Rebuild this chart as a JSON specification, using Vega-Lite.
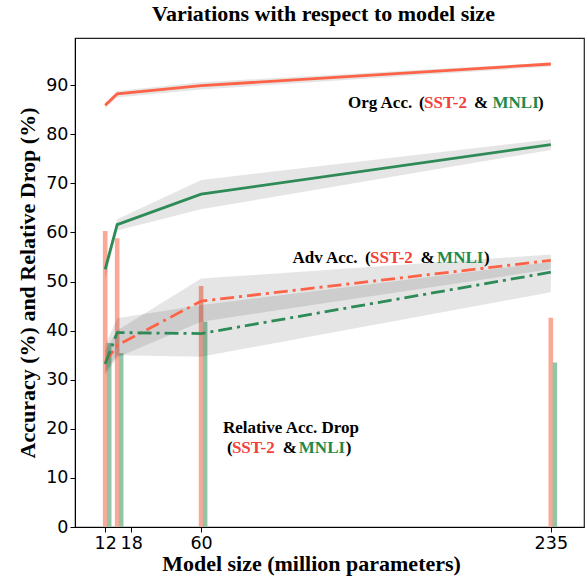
{
  "$schema": "https://vega.github.io/schema/vega-lite/v6.json",
  "width": 509,
  "height": 489,
  "autosize": {"type": "none"},
  "padding": {"left": 75, "top": 38, "right": 3, "bottom": 49},
  "background": "white",
  "config": {
    "view": {"stroke": "#222222", "strokeWidth": 1.2},
    "axis": {"grid": false}
  },
  "title": {
    "text": "Variations with respect to model size",
    "font": "Liberation Serif",
    "fontSize": 22,
    "fontWeight": "bold",
    "color": "black",
    "offset": 12,
    "dx": -6
  },
  "datasets": {
    "drops": [
      {"size": 12, "task": "SST-2", "drop": 60.3},
      {"size": 18, "task": "SST-2", "drop": 58.8},
      {"size": 60, "task": "SST-2", "drop": 49.1},
      {"size": 235, "task": "SST-2", "drop": 42.6},
      {"size": 12, "task": "MNLI", "drop": 37.5},
      {"size": 18, "task": "MNLI", "drop": 35.4},
      {"size": 60, "task": "MNLI", "drop": 41.8},
      {"size": 235, "task": "MNLI", "drop": 33.5}
    ],
    "acc": [
      {"size": 12, "task": "SST-2", "metric": "Org", "key": "Org SST-2", "value": 85.9, "lo": 85.3, "hi": 86.4},
      {"size": 18, "task": "SST-2", "metric": "Org", "key": "Org SST-2", "value": 88.2, "lo": 87.5, "hi": 88.8},
      {"size": 60, "task": "SST-2", "metric": "Org", "key": "Org SST-2", "value": 89.9, "lo": 89.1, "hi": 90.6},
      {"size": 235, "task": "SST-2", "metric": "Org", "key": "Org SST-2", "value": 94.3, "lo": 93.8, "hi": 94.6},
      {"size": 12, "task": "MNLI", "metric": "Org", "key": "Org MNLI", "value": 52.5, "lo": 50.4, "hi": 53.3},
      {"size": 18, "task": "MNLI", "metric": "Org", "key": "Org MNLI", "value": 61.6, "lo": 60.4, "hi": 62.7},
      {"size": 60, "task": "MNLI", "metric": "Org", "key": "Org MNLI", "value": 67.8, "lo": 64.7, "hi": 70.7},
      {"size": 235, "task": "MNLI", "metric": "Org", "key": "Org MNLI", "value": 77.9, "lo": 76.8, "hi": 79.0},
      {"size": 12, "task": "SST-2", "metric": "Adv", "key": "Adv SST-2", "value": 33.5, "lo": 31.0, "hi": 36.0},
      {"size": 18, "task": "SST-2", "metric": "Adv", "key": "Adv SST-2", "value": 37.0, "lo": 34.5, "hi": 40.0},
      {"size": 60, "task": "SST-2", "metric": "Adv", "key": "Adv SST-2", "value": 46.0, "lo": 41.8, "hi": 50.6},
      {"size": 235, "task": "SST-2", "metric": "Adv", "key": "Adv SST-2", "value": 54.3, "lo": 52.5, "hi": 55.5},
      {"size": 12, "task": "MNLI", "metric": "Adv", "key": "Adv MNLI", "value": 33.2, "lo": 31.5, "hi": 37.0},
      {"size": 18, "task": "MNLI", "metric": "Adv", "key": "Adv MNLI", "value": 39.6, "lo": 35.0, "hi": 42.5},
      {"size": 60, "task": "MNLI", "metric": "Adv", "key": "Adv MNLI", "value": 39.4, "lo": 34.7, "hi": 45.2},
      {"size": 235, "task": "MNLI", "metric": "Adv", "key": "Adv MNLI", "value": 51.9, "lo": 47.8, "hi": 54.0}
    ],
    "notes": [
      {"x": 133.5, "y": 85.3, "text": "Org Acc.", "part": "plain"},
      {"x": 169.0, "y": 85.3, "text": "(", "part": "plain"},
      {"x": 171.6, "y": 85.3, "text": "SST-2", "part": "SST-2"},
      {"x": 196.6, "y": 85.3, "text": "&", "part": "plain"},
      {"x": 205.8, "y": 85.3, "text": "MNLI", "part": "MNLI"},
      {"x": 228.6, "y": 85.3, "text": ")", "part": "plain"},
      {"x": 105.7, "y": 53.8, "text": "Adv Acc.", "part": "plain"},
      {"x": 142.0, "y": 53.8, "text": "(", "part": "plain"},
      {"x": 144.5, "y": 53.8, "text": "SST-2", "part": "SST-2"},
      {"x": 169.8, "y": 53.8, "text": "&", "part": "plain"},
      {"x": 178.1, "y": 53.8, "text": "MNLI", "part": "MNLI"},
      {"x": 201.6, "y": 53.8, "text": ")", "part": "plain"},
      {"x": 70.9, "y": 19.1, "text": "Relative Acc. Drop", "part": "plain"},
      {"x": 73.0, "y": 15.0, "text": "(", "part": "plain"},
      {"x": 75.4, "y": 15.0, "text": "SST-2", "part": "SST-2"},
      {"x": 100.8, "y": 15.0, "text": "&", "part": "plain"},
      {"x": 108.9, "y": 15.0, "text": "MNLI", "part": "MNLI"},
      {"x": 132.4, "y": 15.0, "text": ")", "part": "plain"}
    ]
  },
  "layer": [
    {
      "data": {"name": "drops"},
      "transform": [{"filter": "datum.task == 'SST-2'"}],
      "mark": {"type": "bar", "orient": "vertical", "width": 4.6, "color": "#fba897", "opacity": 1},
      "encoding": {
        "x": {
          "field": "size", "type": "quantitative",
          "scale": {"domain": [-0.6, 249.1], "nice": false, "zero": false},
          "title": "Model size (million parameters)",
          "axis": {
            "values": [12, 25, 60, 235],
            "labelExpr": "datum.value == 25 ? '18' : datum.label",
            "labelFont": "DejaVu Sans", "labelFontSize": 17.5, "labelColor": "black",
            "labelOverlap": false, "labelFlush": false, "labelPadding": 2,
            "tickColor": "black", "tickSize": 5, "domainColor": "black",
            "titleFont": "Liberation Serif", "titleFontWeight": "bold", "titleFontSize": 22,
            "titleColor": "black", "titleX": 236, "titlePadding": 2
          }
        },
        "y": {
          "field": "drop", "type": "quantitative", "stack": null,
          "scale": {"domain": [0, 99.6], "nice": false, "zero": true},
          "title": "Accuracy (%) and Relative Drop (%)",
          "axis": {
            "values": [0, 10, 20, 30, 40, 50, 60, 70, 80, 90],
            "labelFont": "DejaVu Sans", "labelFontSize": 17.5, "labelColor": "black",
            "labelPadding": 2, "tickColor": "black", "tickSize": 5, "domainColor": "black",
            "titleFont": "Liberation Serif", "titleFontWeight": "bold", "titleFontSize": 22,
            "titleColor": "black", "titlePadding": 6
          }
        }
      }
    },
    {
      "data": {"name": "drops"},
      "transform": [{"filter": "datum.task == 'MNLI'"}],
      "mark": {"type": "bar", "orient": "vertical", "width": 4.6, "xOffset": 4, "color": "#93c4a6", "opacity": 1},
      "encoding": {
        "x": {"field": "size", "type": "quantitative", "title": "Model size (million parameters)"},
        "y": {"field": "drop", "type": "quantitative", "stack": null, "title": "Accuracy (%) and Relative Drop (%)"}
      }
    },
    {
      "data": {"name": "acc"},
      "mark": {"type": "area", "color": "black", "fillOpacity": 0.1, "opacity": 1},
      "encoding": {
        "x": {"field": "size", "type": "quantitative", "title": "Model size (million parameters)"},
        "y": {"field": "lo", "type": "quantitative", "title": "Accuracy (%) and Relative Drop (%)"},
        "y2": {"field": "hi"},
        "detail": {"field": "key", "type": "nominal"}
      }
    },
    {
      "data": {"name": "acc"},
      "transform": [{"filter": "datum.metric == 'Org'"}],
      "mark": {"type": "line", "strokeWidth": 2.8},
      "encoding": {
        "x": {"field": "size", "type": "quantitative", "title": "Model size (million parameters)"},
        "y": {"field": "value", "type": "quantitative", "title": "Accuracy (%) and Relative Drop (%)"},
        "color": {"field": "task", "type": "nominal", "legend": null,
          "scale": {"domain": ["SST-2", "MNLI"], "range": ["#ff6347", "#2e8b57"]}}
      }
    },
    {
      "data": {"name": "acc"},
      "transform": [{"filter": "datum.metric == 'Adv'"}],
      "mark": {"type": "line", "strokeWidth": 2.8, "strokeDash": [14, 5, 3, 5]},
      "encoding": {
        "x": {"field": "size", "type": "quantitative", "title": "Model size (million parameters)"},
        "y": {"field": "value", "type": "quantitative", "title": "Accuracy (%) and Relative Drop (%)"},
        "color": {"field": "task", "type": "nominal", "legend": null,
          "scale": {"domain": ["SST-2", "MNLI"], "range": ["#ff6347", "#2e8b57"]}}
      }
    },
    {
      "data": {"name": "notes"},
      "mark": {"type": "text", "align": "left", "baseline": "alphabetic", "font": "Liberation Serif", "fontWeight": "bold", "fontSize": 17},
      "encoding": {
        "x": {"field": "x", "type": "quantitative", "title": "Model size (million parameters)"},
        "y": {"field": "y", "type": "quantitative", "title": "Accuracy (%) and Relative Drop (%)"},
        "text": {"field": "text"},
        "fill": {"field": "part", "type": "nominal", "legend": null,
          "scale": {"domain": ["plain", "SST-2", "MNLI"], "range": ["black", "#f2403a", "#1f8a4c"]}}
      }
    }
  ],
  "resolve": {"scale": {"fill": "independent"}}
}
